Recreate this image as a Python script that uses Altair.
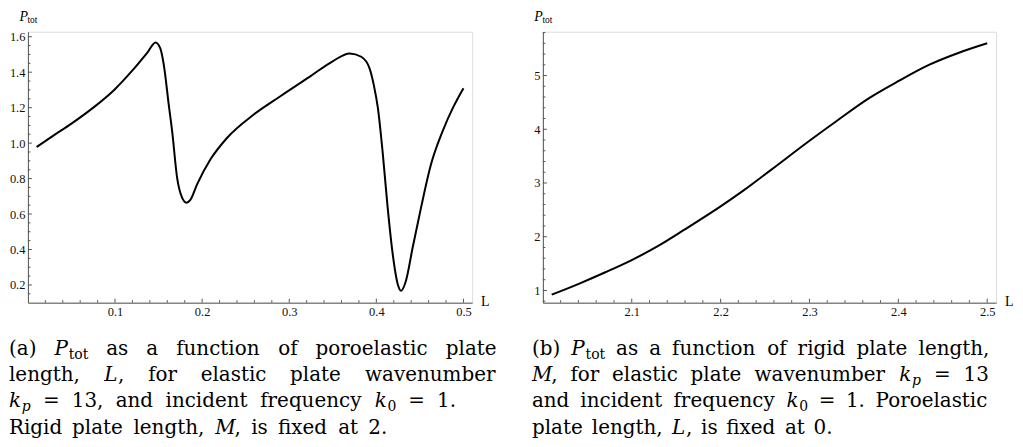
import re
import altair as alt
import pandas as pd

# ---- data ----
L_vals = [0.01, 0.03, 0.05, 0.075, 0.099, 0.12, 0.137, 0.1465, 0.152, 0.156, 0.1617,
          0.1656, 0.1713, 0.177, 0.1819, 0.1865, 0.1942, 0.2094, 0.2285, 0.2589, 0.2894,
          0.3237, 0.3503, 0.3694, 0.3827, 0.3922, 0.3970, 0.4018, 0.4075, 0.413, 0.4188,
          0.4245, 0.4284, 0.434, 0.4417, 0.4513, 0.4627, 0.476, 0.488, 0.5]
P_a = [0.978, 1.045, 1.11, 1.20, 1.30, 1.41, 1.51, 1.568, 1.534, 1.441, 1.216,
       1.066, 0.804, 0.692, 0.664, 0.68, 0.767, 0.907, 1.029, 1.16, 1.263,
       1.375, 1.463, 1.506, 1.487, 1.422, 1.33, 1.197, 0.935, 0.636, 0.374,
       0.206, 0.168, 0.224, 0.411, 0.636, 0.879, 1.066, 1.20, 1.31]

M_vals = [2.0099, 2.0404, 2.0703, 2.1, 2.1298, 2.1597, 2.2, 2.2267, 2.2564, 2.3004,
          2.331, 2.368, 2.4, 2.435, 2.469, 2.5]
P_b = [0.921, 1.123, 1.338, 1.565, 1.829, 2.135, 2.564, 2.871, 3.239, 3.791,
       4.159, 4.588, 4.895, 5.202, 5.429, 5.60]

xa_major = [0.1, 0.2, 0.3, 0.4, 0.5]
ya_major = [0.2, 0.4, 0.6, 0.8, 1.0, 1.2, 1.4, 1.6]
xb_major = [2.1, 2.2, 2.3, 2.4, 2.5]
yb_major = [1, 2, 3, 4, 5]

xa_minor = [round(0.02 * i, 2) for i in range(1, 26) if i % 5 != 0]
ya_minor = [round(0.05 * i, 2) for i in range(3, 33) if i % 4 != 0]
xb_minor = [round(2.0 + 0.02 * i, 2) for i in range(1, 26) if i % 5 != 0]
yb_minor = [round(0.2 * i, 1) for i in range(4, 30) if i % 5 != 0]

# captions: *x* = italic, _abc = roman subscript, _*x* = italic subscript
cap_a = ["(a) *P*_tot as a function of poroelastic plate",
         "length, *L*, for elastic plate wavenumber",
         "*k*_*p* = 13, and incident frequency *k*_0 = 1.",
         "Rigid plate length, *M*, is fixed at 2."]
cap_b = ["(b) *P*_tot as a function of rigid plate length,",
         "*M*, for elastic plate wavenumber *k*_*p* = 13",
         "and incident frequency *k*_0 = 1. Poroelastic",
         "plate length, *L*, is fixed at 0."]

SERIF = "Liberation Serif"
CAPF = "DejaVu Serif"
CAPS = 20
AX = "#555555"
H = 272

# approximate advance widths (em) used only to spread caption words
CW = {'a': .60, 'b': .64, 'c': .56, 'd': .64, 'e': .59, 'f': .37, 'g': .64, 'h': .66,
      'i': .32, 'k': .64, 'l': .32, 'm': .96, 'n': .66, 'o': .60, 'p': .66, 'q': .64,
      'r': .48, 's': .51, 't': .40, 'u': .66, 'v': .59, 'w': .86, 'x': .59, 'y': .59,
      'z': .53, 'L': .70, 'M': .97, 'P': .72, 'R': .73, '(': .39, ')': .39, ',': .32,
      '.': .32, '=': .84}
TOK = re.compile(r"_\*([^*]+)\*|_([A-Za-z0-9]+)|\*([^*]+)\*|([^*_]+)")


def segs(word):
    out = []
    for m in TOK.finditer(word):
        if m.group(1):
            out.append((m.group(1), True, True))
        elif m.group(2):
            out.append((m.group(2), True, False))
        elif m.group(3):
            out.append((m.group(3), False, True))
        else:
            out.append((m.group(4), False, False))
    return out


def tw(text, size):
    return sum(CW.get(c, 0.64) for c in text) * size


def caption_marks(lines, x0, ends, base_y):
    one = pd.DataFrame({"a": [0]})
    marks = []
    for line, x1, y in zip(lines, ends, base_y):
        words = [segs(w) for w in line.split(" ")]
        widths = [sum(tw(t, CAPS * (0.7 if sub else 1)) for t, sub, _ in w) for w in words]
        gap = (x1 - x0 - sum(widths)) / (len(words) - 1)
        x = x0
        for w, wd in zip(words, widths):
            cx = x
            for t, sub, it in w:
                fs = CAPS * 0.7 if sub else CAPS
                marks.append(alt.Chart(one).mark_text(
                    text=t, font=CAPF, fontSize=fs, fontStyle="italic" if it else "normal",
                    align="left", baseline="alphabetic", color="black").encode(
                    x=alt.value(cx), y=alt.value(y + (4 if sub else 0))))
                cx += tw(t, fs)
            x += wd + gap
    return marks


def panel(xs, ys, xdom, ydom, xmaj, xmin, ymaj, ymin, xfmt, yfmt, W, caption, cap_x, cap_ends):
    xscale = alt.Scale(domain=xdom, nice=False, zero=False)
    yscale = alt.Scale(domain=ydom, nice=False, zero=False)
    common = dict(title=None, grid=False, ticks=False, tickSize=0, domainColor=AX, domainWidth=1,
                  labelFont=SERIF, labelFontSize=12.5, labelColor="#111", labelPadding=3,
                  labelFlush=False)
    xaxis = alt.Axis(values=xmaj, format=xfmt, **common)
    yaxis = alt.Axis(values=ymaj, format=yfmt, **common)

    df = pd.DataFrame({"x": xs, "y": ys})
    line = alt.Chart(df).mark_line(color="black", strokeWidth=2, interpolate="monotone").encode(
        x=alt.X("x:Q", scale=xscale, axis=xaxis),
        y=alt.Y("y:Q", scale=yscale, axis=yaxis),
    )

    def xt(vals, ln):
        return alt.Chart(pd.DataFrame({"x": vals})).mark_rule(color=AX, strokeWidth=1).encode(
            x=alt.X("x:Q", scale=xscale, axis=xaxis), y=alt.value(H), y2=alt.value(H - ln))

    def yt(vals, ln):
        return alt.Chart(pd.DataFrame({"y": vals})).mark_rule(color=AX, strokeWidth=1).encode(
            y=alt.Y("y:Q", scale=yscale, axis=yaxis), x=alt.value(0), x2=alt.value(ln))

    one = pd.DataFrame({"a": [0]})
    texts = [
        alt.Chart(one).mark_text(text="P", font=SERIF, fontSize=14, fontStyle="italic",
                                 align="right", baseline="alphabetic").encode(
            x=alt.value(0), y=alt.value(-11)),
        alt.Chart(one).mark_text(text="tot", font=SERIF, fontSize=9.5,
                                 align="left", baseline="alphabetic").encode(
            x=alt.value(-0.5), y=alt.value(-9)),
        alt.Chart(one).mark_text(text="L", font=SERIF, fontSize=14,
                                 align="left", baseline="alphabetic").encode(
            x=alt.value(W + 9), y=alt.value(H + 3)),
    ]
    texts += caption_marks(caption, cap_x, cap_ends, [325, 351, 377, 404])

    return alt.layer(line, xt(xmaj, 4), xt(xmin, 2.5), yt(ymaj, 4), yt(ymin, 2.5),
                     *texts).properties(width=W, height=H)


left = panel(L_vals, P_a, [0.0, 0.51], [0.1, 1.628], xa_major, xa_minor, ya_major, ya_minor,
             ".1f", ".1f", 446, cap_a, -19, [471, 471, 430, 361])
right = panel(M_vals, P_b, [2.0, 2.51], [0.772, 5.815], xb_major, xb_minor, yb_major, yb_minor,
              ".1f", "d", 455, cap_b, -11, [449, 448, 448, 291])

chart = alt.hconcat(left, right, spacing=71, bounds="flush").properties(
    padding=0
).configure_view(stroke=None).configure(background="white")

chart.save("out.html", embed_options={"renderer": "svg", "actions": False})
